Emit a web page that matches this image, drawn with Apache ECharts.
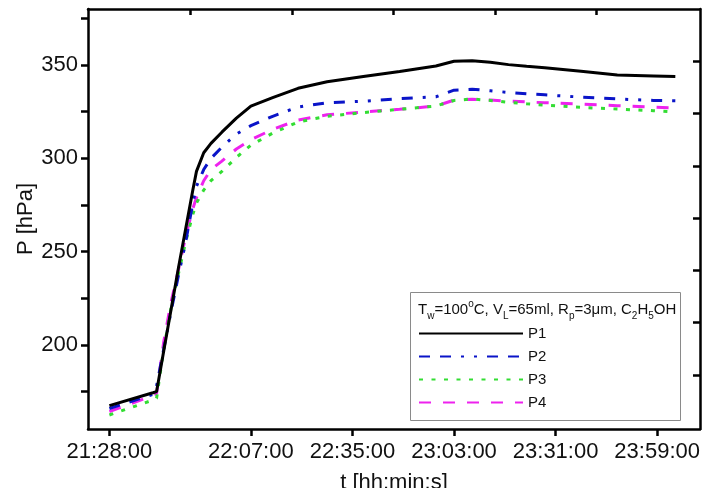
<!DOCTYPE html>
<html>
<head>
<meta charset="utf-8">
<script src="https://cdn.jsdelivr.net/npm/echarts@6/dist/echarts.min.js"></script>
<style>
html,body{margin:0;padding:0;background:#fff;}
#chart{width:715px;height:488px;}
</style>
</head>
<body>
<div id="chart"></div>
<script>
// Sample times (hh:mm)
var times = ["21:28","21:40","21:41","21:43","21:45","21:47","21:49","21:51","21:52","21:54","21:56","21:59","22:03","22:07","22:13","22:20","22:28","22:38","22:48","22:58","23:03","23:08","23:13","23:18","23:23","23:28","23:38","23:48","23:58","00:04"];
// Pressure values [hPa]
var P1 = [167.5,174.4,175,197,219,241,262,283,293,303,308,314,321.5,328,332.5,337.5,341,343.8,346.5,349.5,352,352.3,351.5,350.2,349.3,348.5,346.6,344.6,344.1,343.8];
var P2 = [166,173.5,178,198,218,237,255,276,285,294,300,306,313,317.5,322.5,327.5,329.8,330.6,332,333,336.5,337,336.2,335.3,334.6,334,332.8,331.8,331,330.8];
var P3 = [162.5,170.5,171.5,198,220,238,255,270,276,283,288,293,300.5,307,313.5,319.5,322.5,324.5,326.3,328,331,331.8,331,330,329.2,328.5,327.3,326.4,325.5,324.8];
var P4 = [164.3,173,174,202,223,240,258,273,279,288,294,298.5,305,310,315.5,320.5,323.3,324.8,326.3,328,331.2,331.7,331.2,330.7,330.2,329.8,329,328.2,327.4,327];
var seriesNames = ["P1","P2","P3","P4"];
// Axis tick labels
var xTickLabels = ["21:28:00","22:07:00","22:35:00","23:03:00","23:31:00","23:59:00"];
var yTickLabels = [200,250,300,350];
var yMinorTicks = [175,200,225,250,275,300,325,350,375];
var xTopTicks = ["21:50:20","22:18:20","22:46:20","23:14:20","23:42:20"];
var yRightTicks = [184,212,240,268,296,324,352];
var legendTitle = "T{sub|w}=100{sup|o}C, V{sub|L}=65ml, R{sub|p}=3μm, C{sub|2}H{sub|5}OH";

function toMin(s){
  var p = s.split(":").map(Number);
  var m = p[0]*60 + p[1] + (p[2]||0)/60;
  if (m < 12*60) m += 1440;
  return m;
}
function fmt(v){
  var m = Math.round(v) % 1440;
  var h = Math.floor(m/60), mm = m%60;
  return (h<10?"0":"")+h+":"+(mm<10?"0":"")+mm+":00";
}
function build(vals){ return times.map(function(t,i){ return [toMin(t), vals[i]]; }); }

var FONT = "Liberation Sans, Arial, sans-serif";
var xMin = 1282.1, xMax = 1450.8;
var yMin = 155, yMax = 380;
var styles = [
  {color:"#000000", type:"solid"},
  {color:"#0a14c8", type:[11,10,11,10,3,10,3,10]},
  {color:"#33dd33", type:[4,8.5]},
  {color:"#ee22ee", type:[12,12]}
];
var data = [P1,P2,P3,P4];

var chart = echarts.init(document.getElementById("chart"), null, {renderer:"canvas"});
chart.setOption({
  animation:false,
  backgroundColor:"#ffffff",
  grid:{left:88, right:15, top:9, bottom:59, containLabel:false, outerBoundsMode:"none"},
  xAxis:[{
    type:"value", position:"bottom", min:xMin, max:xMax,
    name:"t [hh:min:s]", nameLocation:"middle", nameGap:43, nameMoveOverlap:false,
    nameTextStyle:{fontSize:22, fontFamily:FONT, color:"#111"},
    axisLine:{show:true, lineStyle:{color:"#000", width:2.5}},
    axisTick:{show:true, length:7, inside:false, lineStyle:{color:"#000", width:2.5}, customValues:xTickLabels.map(toMin)},
    axisLabel:{show:true, fontSize:22, fontFamily:FONT, color:"#111", margin:12, customValues:xTickLabels.map(toMin), formatter:function(v){return fmt(v);}},
    splitLine:{show:false}
  },{
    type:"value", position:"top", min:xMin, max:xMax,
    axisLine:{show:true, lineStyle:{color:"#000", width:2.5}},
    axisTick:{show:true, length:6, inside:true, lineStyle:{color:"#000", width:2.5}, customValues:xTopTicks.map(toMin)},
    axisLabel:{show:false},
    splitLine:{show:false}
  }],
  yAxis:[{
    type:"value", position:"left", min:yMin, max:yMax,
    name:"P [hPa]", nameLocation:"middle", nameGap:51, nameRotate:90, nameMoveOverlap:false,
    nameTextStyle:{fontSize:22, fontFamily:FONT, color:"#111"},
    axisLine:{show:true, lineStyle:{color:"#000", width:2.5}},
    axisTick:{show:true, length:7, inside:false, lineStyle:{color:"#000", width:2.5}, customValues:yMinorTicks},
    axisLabel:{show:true, fontSize:22, fontFamily:FONT, color:"#111", margin:10, customValues:yTickLabels},
    splitLine:{show:false}
  },{
    type:"value", position:"right", min:yMin, max:yMax,
    axisLine:{show:true, lineStyle:{color:"#000", width:2.5}},
    axisTick:{show:true, length:7, inside:true, lineStyle:{color:"#000", width:2.5}, customValues:yRightTicks},
    axisLabel:{show:false},
    splitLine:{show:false}
  }],
  legend:{
    show:true, orient:"vertical", left:418, top:326, padding:0,
    itemWidth:104, itemHeight:14, itemGap:8,
    data:seriesNames,
    itemStyle:{opacity:0},
    textStyle:{fontSize:15, fontFamily:FONT, color:"#111"},
    selectedMode:false
  },
  graphic:[
    {type:"rect", left:408, top:290, shape:{width:270, height:128}, style:{fill:"none", stroke:"#8a8a8a", lineWidth:1}, z:100},
    {type:"text", left:418, top:299, z:100, style:{
      text:legendTitle, font:"15px " + FONT, fill:"#111",
      rich:{
        sub:{fontSize:10, fontFamily:FONT, verticalAlign:"bottom", lineHeight:11, fill:"#111"},
        sup:{fontSize:10, fontFamily:FONT, verticalAlign:"top", lineHeight:11, fill:"#111"}
      },
      lineHeight:22
    }}
  ],
  series:seriesNames.map(function(n,i){
    return {
      name:n, type:"line", xAxisIndex:0, yAxisIndex:0,
      data:build(data[i]), symbol:"none", showSymbol:false, smooth:false,
      lineStyle:{color:styles[i].color, width:3, type:styles[i].type},
      itemStyle:{color:styles[i].color},
      z:10-i
    };
  })
});
</script>
</body>
</html>
